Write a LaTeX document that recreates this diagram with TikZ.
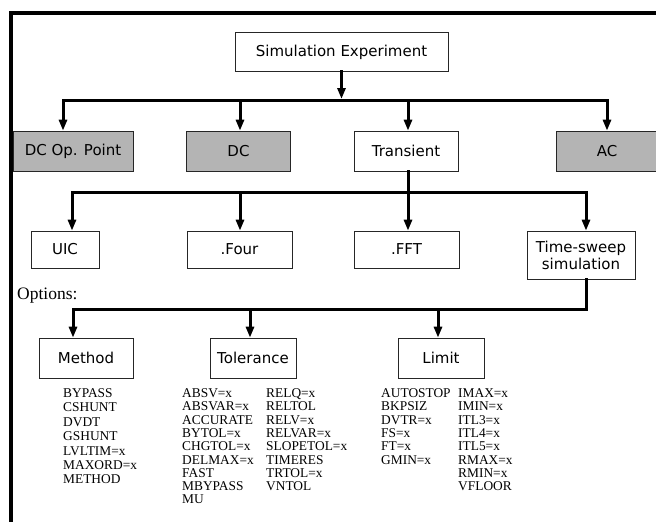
\documentclass[tikz,border=0pt]{standalone}
\usepackage{fontspec}
\setmainfont{Liberation Serif}
\newfontfamily\boxfont{DejaVu Sans}
\usetikzlibrary{arrows.meta}
\definecolor{shadegray}{RGB}{180,180,180}

\begin{document}
\begin{tikzpicture}[x=1pt,y=-1pt]
\tikzset{
  boxnode/.style={rectangle,draw=black!85,line width=0.7pt,inner sep=0pt,align=center,font=\boxfont\fontsize{15}{17}\selectfont},
  shadednode/.style={boxnode,fill=shadegray},
  flowedge/.style={draw=black,line width=3pt,line cap=rect,line join=miter},
  flowarrow/.style={flowedge,-{Triangle[length=11pt,width=8pt]}},
  optlist/.style={anchor=north west,inner sep=0pt,align=left,font=\fontsize{13.4}{13.3}\selectfont}
}
\useasboundingbox (0,0) rectangle (656,522);
\draw[line width=3.5pt] (660,13) -- (11,13) -- (11,526);
\node[boxnode,minimum width=213,minimum height=39] (n_sim) at (341.5,52) {Simulation Experiment};
\node[shadednode,minimum width=120,minimum height=40] (n_dcop) at (73,151) {DC Op. Point};
\node[shadednode,minimum width=104,minimum height=40] (n_dc) at (238.5,151) {DC};
\node[boxnode,minimum width=104,minimum height=40] (n_tran) at (406,151) {Transient};
\node[shadednode,minimum width=101,minimum height=40] (n_ac) at (607,151) {AC};
\node[boxnode,minimum width=68,minimum height=37] (n_uic) at (65,249.5) {UIC};
\node[boxnode,minimum width=105,minimum height=37] (n_four) at (239.5,249.5) {.Four};
\node[boxnode,minimum width=105,minimum height=37] (n_fft) at (406.5,249.5) {.FFT};
\node[boxnode,minimum width=108,minimum height=48] (n_sweep) at (581,255) {Time-sweep\\simulation};
\node[anchor=west,inner sep=0pt,font=\fontsize{17.5}{20}\selectfont] (n_opt) at (17,296) {Options:};
\node[boxnode,minimum width=94,minimum height=40] (n_meth) at (86,358) {Method};
\node[boxnode,minimum width=86,minimum height=40] (n_tol) at (253,358) {Tolerance};
\node[boxnode,minimum width=86,minimum height=40] (n_lim) at (441,358) {Limit};
\node[optlist,font=\fontsize{13.4}{14.4}\selectfont] (l_meth) at (63,388.5) {BYPASS\\CSHUNT\\DVDT\\GSHUNT\\LVLTIM=x\\MAXORD=x\\METHOD};
\node[optlist] (l_tola) at (182,388.5) {ABSV=x\\ABSVAR=x\\ACCURATE\\BYTOL=x\\CHGTOL=x\\DELMAX=x\\FAST\\MBYPASS\\MU};
\node[optlist] (l_tolb) at (266,388.5) {RELQ=x\\RELTOL\\RELV=x\\RELVAR=x\\SLOPETOL=x\\TIMERES\\TRTOL=x\\VNTOL};
\node[optlist] (l_lima) at (381,388.5) {AUTOSTOP\\BKPSIZ\\DVTR=x\\FS=x\\FT=x\\GMIN=x};
\node[optlist] (l_limb) at (458,388.5) {IMAX=x\\IMIN=x\\ITL3=x\\ITL4=x\\ITL5=x\\RMAX=x\\RMIN=x\\VFLOOR};
% analysis level
\coordinate (k_top) at (341.5,99);
\coordinate (k_dcop) at (63,100);
\coordinate (k_dc) at (240,100);
\coordinate (k_tran) at (408,100);
\coordinate (k_ac) at (607,100);
\draw[flowarrow] (n_sim.south) -- (k_top);
\draw[flowedge] (k_dcop) -- (k_ac);
\draw[flowarrow] (k_dcop) -- (k_dcop |- n_dcop.north);
\draw[flowarrow] (k_dc) -- (k_dc |- n_dc.north);
\draw[flowarrow] (k_tran) -- (k_tran |- n_tran.north);
\draw[flowarrow] (k_ac) -- (k_ac |- n_ac.north);
% transient level
\coordinate (k_uic) at (72,192);
\coordinate (k_four) at (240,192);
\coordinate (k_fft) at (408,192);
\coordinate (k_sweep) at (586,192);
\draw[flowedge] (n_tran.south -| k_fft) -- (k_fft);
\draw[flowedge] (k_uic) -- (k_sweep);
\draw[flowarrow] (k_uic) -- (k_uic |- n_uic.north);
\draw[flowarrow] (k_four) -- (k_four |- n_four.north);
\draw[flowarrow] (k_fft) -- (k_fft |- n_fft.north);
\draw[flowarrow] (k_sweep) -- (k_sweep |- n_sweep.north);
% options level
\coordinate (k_meth) at (73,309);
\coordinate (k_tol) at (250,309);
\coordinate (k_lim) at (438,309);
\coordinate (k_opt) at (586,309);
\draw[flowedge] (n_sweep.south -| k_opt) -- (k_opt) -- (k_meth);
\draw[flowarrow] (k_meth) -- (k_meth |- n_meth.north);
\draw[flowarrow] (k_tol) -- (k_tol |- n_tol.north);
\draw[flowarrow] (k_lim) -- (k_lim |- n_lim.north);
\end{tikzpicture}
\end{document}
